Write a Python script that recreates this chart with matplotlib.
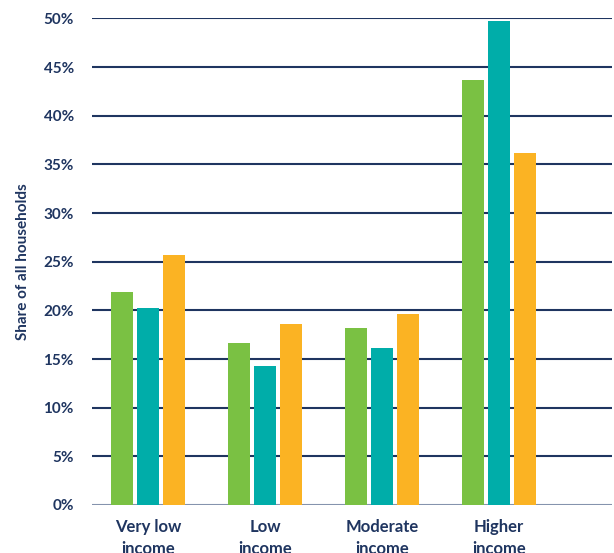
import numpy as np
import matplotlib.pyplot as plt

categories = ["Very low\nincome", "Low\nincome", "Moderate\nincome", "Higher\nincome"]
series_a = [21.9, 16.6, 18.2, 43.7]   # green
series_b = [20.2, 14.3, 16.1, 49.7]   # teal
series_c = [25.7, 18.6, 19.6, 36.2]   # orange
y_ticks = [0, 5, 10, 15, 20, 25, 30, 35, 40, 45, 50]

NAVY = "#1f3560"
colors = ["#7ac143", "#00ada9", "#fbb323"]

plt.rcParams['font.family'] = ['Lato', 'DejaVu Sans']

fig = plt.figure(figsize=(6.14, 5.53), dpi=100)
ax = fig.add_axes([0.1498, 0.0868, 0.847, 0.88])

x = np.arange(len(categories))
width = 0.188
step = 0.222
for k, vals in enumerate([series_a, series_b, series_c]):
    ax.bar(x + (k - 1) * step, vals, width=width, color=colors[k], zorder=3)

for t in y_ticks:
    ax.axhline(t, color=NAVY if t > 0 else "#8593ad", linewidth=1.5, zorder=1)

ax.set_xlim(-0.48, 3.97)
ax.set_ylim(0, 50)
ax.set_yticks(y_ticks)
ax.set_yticklabels([f"{t}%" for t in y_ticks])
ax.set_xticks(x)
ax.set_xticklabels(categories, linespacing=1.5)
ax.tick_params(axis='y', length=0, pad=13, labelsize=11, labelcolor=NAVY)
ax.tick_params(axis='x', length=0, pad=10, labelsize=12, labelcolor=NAVY)
for lab in ax.get_xticklabels() + ax.get_yticklabels():
    lab.set_fontweight('bold')
for s in ax.spines.values():
    s.set_visible(False)

ax.set_ylabel("Share of all households", fontsize=11, fontweight='bold', color=NAVY, labelpad=10)

fig.savefig("out.png", dpi=100)
